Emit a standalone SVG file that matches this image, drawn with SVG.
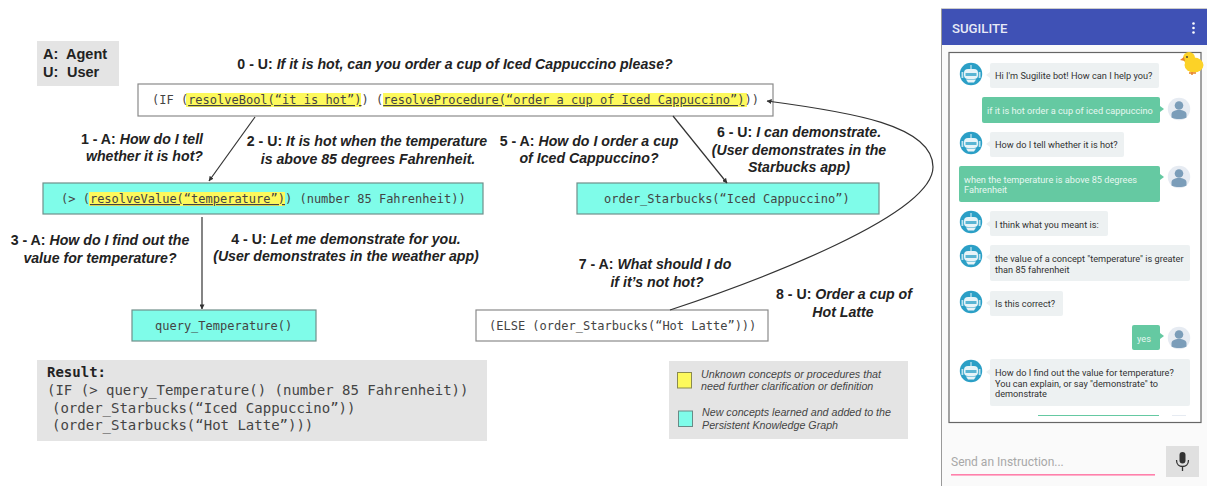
<svg xmlns="http://www.w3.org/2000/svg" width="1207" height="486" viewBox="0 0 1207 486">
<style>
text{font-family:"Liberation Sans",Arial,sans-serif}
.lb{font-size:14.15px;font-weight:bold;fill:#222;text-anchor:middle}
.lb tspan{font-style:italic}
.mono{font-family:"DejaVu Sans Mono",monospace;font-size:12px;fill:#444}
.mono .u{text-decoration:underline}
.hl{fill:#fdf95c}
.box{stroke:#8a8a8a;stroke-width:1.2;fill:#fff}
.teal{stroke:#6f8f8a;stroke-width:1.2;fill:#7ffce9}
.res{font-family:"DejaVu Sans Mono",monospace;font-size:14px;fill:#444}
.leg{font-size:10.7px;font-style:italic;fill:#444}
.c{stroke:#333;stroke-width:1.2;fill:none}
.bb{fill:#edf1f2}
.gb{fill:#65c9a2}
.bt{font-family:Roboto,"Liberation Sans",sans-serif;font-size:9.2px;fill:#333}
.gt{font-family:Roboto,"Liberation Sans",sans-serif;font-size:9.2px;fill:#e6f7f0}
</style>
<defs>
<marker id="ah" viewBox="0 0 6 6" refX="5.5" refY="3" markerWidth="5" markerHeight="5" orient="auto" markerUnits="userSpaceOnUse"><path d="M0 0L6 3L0 6Z" fill="#333"/></marker>
<g id="bot"><circle r="11.2" fill="#2b9fc6"/><rect x="-7" y="-5" width="14" height="10" rx="4" fill="#e8f4f8"/><path d="M-5 5.5h10l-2 3h-6Z" fill="#e8f4f8"/><rect x="-0.5" y="-9" width="1" height="4" fill="#e8f4f8"/><rect x="-9.5" y="-2" width="1.8" height="6" fill="#bfe3ef"/><rect x="7.7" y="-2" width="1.8" height="6" fill="#bfe3ef"/><rect x="-5.5" y="-1" width="11" height="3" fill="#5ab5d3"/></g>
<g id="usr"><circle r="11.2" fill="#e6ebf2"/><circle cy="-3.5" r="4.3" fill="#7b9db9"/><path d="M-7.5 8.5v-3c0-3 3-4.5 7.5-4.5s7.500 1.500 7.500 4.500v3c-4 2-11 2-15 0Z" fill="#7b9db9"/></g>
</defs>
<rect width="1207" height="486" fill="#fff"/>

<g id="legend-roles"><rect x="37" y="41" width="82" height="45" fill="#e4e4e4"/>
<text x="43" y="59" style="font-size:14.5px;font-weight:bold;fill:#222">A:</text><text x="66" y="59" style="font-size:14.5px;font-weight:bold;fill:#222">Agent</text>
<text x="43" y="77" style="font-size:14.5px;font-weight:bold;fill:#222">U:</text><text x="67" y="77" style="font-size:14.5px;font-weight:bold;fill:#222">User</text></g>

<g id="node-if"><rect class="box" x="138" y="84" width="635" height="32"/>
<rect class="hl" x="186" y="93" width="175" height="14"/><rect class="hl" x="383" y="93" width="364" height="14"/>
<text class="mono" x="152" y="104" xml:space="preserve">(IF (<tspan class="u">resolveBool(“it is hot”)</tspan>) (<tspan class="u">resolveProcedure(“order a cup of Iced Cappuccino”)</tspan>))</text></g>

<g id="node-gt"><rect class="teal" x="43" y="183" width="440" height="31"/>
<rect class="hl" x="89" y="192" width="196" height="14"/>
<text class="mono" x="61" y="203" xml:space="preserve">(&gt; (<tspan class="u">resolveValue(“temperature”)</tspan>) (number 85 Fahrenheit))</text></g>

<g id="node-order"><rect class="teal" x="577" y="183" width="302" height="31"/>
<text class="mono" x="604" y="203">order_Starbucks(“Iced Cappuccino”)</text></g>

<g id="node-query"><rect class="teal" x="132" y="310" width="184" height="31"/>
<text class="mono" x="155" y="330">query_Temperature()</text></g>

<g id="node-else"><rect class="box" x="476" y="310" width="292" height="31"/>
<text class="mono" x="489" y="330">(ELSE (order_Starbucks(“Hot Latte”)))</text></g>

<g id="connectors">
<path class="c" d="M255 117L209 181" marker-end="url(#ah)"/>
<path class="c" d="M202 217V309" marker-end="url(#ah)"/>
<path class="c" d="M673 116L727 183" marker-end="url(#ah)"/>
<path class="c" d="M670 310C760 280 933 215 933 167C933 125 850 112 767 101" marker-end="url(#ah)"/>
</g>

<g id="labels">
<text class="lb" x="455" y="69">0 - U: <tspan>If it is hot, can you order a cup of Iced Cappuccino please?</tspan></text>
<text class="lb" x="203" y="144" style="text-anchor:end">1 - A: <tspan>How do I tell</tspan></text>
<text class="lb" x="203" y="161" style="text-anchor:end"><tspan>whether it is hot?</tspan></text>
<text class="lb" x="367" y="146">2 - U: <tspan>It is hot when the temperature</tspan></text>
<text class="lb" x="368" y="164"><tspan>is above 85 degrees Fahrenheit.</tspan></text>
<text class="lb" x="589" y="146">5 - A: <tspan>How do I order a cup</tspan></text>
<text class="lb" x="589" y="163"><tspan>of Iced Cappuccino?</tspan></text>
<text class="lb" x="799" y="137">6 - U: <tspan>I can demonstrate.</tspan></text>
<text class="lb" x="799" y="155"><tspan>(User demonstrates in the</tspan></text>
<text class="lb" x="799" y="172"><tspan>Starbucks app)</tspan></text>
<text class="lb" x="100" y="245">3 - A: <tspan>How do I find out the</tspan></text>
<text class="lb" x="100" y="263"><tspan>value for temperature?</tspan></text>
<text class="lb" x="346" y="244">4 - U: <tspan>Let me demonstrate for you.</tspan></text>
<text class="lb" x="346" y="261"><tspan>(User demonstrates in the weather app)</tspan></text>
<text class="lb" x="655" y="269">7 - A: <tspan>What should I do</tspan></text>
<text class="lb" x="657" y="287"><tspan>if it’s not hot?</tspan></text>
<text class="lb" x="844" y="299">8 - U: <tspan>Order a cup of</tspan></text>
<text class="lb" x="843" y="317"><tspan>Hot Latte</tspan></text>
</g>

<g id="result"><rect x="37" y="360" width="450" height="81" fill="#e4e4e4"/>
<text class="res" x="47" y="377" font-weight="bold" style="fill:#222">Result:</text>
<text class="res" x="47" y="395">(IF (&gt; query_Temperature() (number 85 Fahrenheit))</text>
<text class="res" x="52" y="413">(order_Starbucks(“Iced Cappuccino”))</text>
<text class="res" x="52" y="430">(order_Starbucks(“Hot Latte”)))</text></g>

<g id="legend-colors"><rect x="669" y="361" width="239" height="78" fill="#e4e4e4"/>
<rect x="677.500" y="372.500" width="14" height="15.500" fill="#fdf95c" stroke="#8a8a50"/>
<text class="leg" x="701" y="378">Unknown concepts or procedures that</text>
<text class="leg" x="701" y="390">need further clarification or definition</text>
<rect x="678.500" y="411" width="14" height="15.500" fill="#7ffce9" stroke="#6a8a86"/>
<text class="leg" x="702" y="416">New concepts learned and added to the</text>
<text class="leg" x="702" y="429">Persistent Knowledge Graph</text></g>

<g id="phone">
<rect x="941.500" y="9" width="266" height="478" fill="#fafafa" stroke="#9a9a9a"/>
<rect x="942" y="9" width="265" height="36" fill="#3f51b5"/>
<text x="952" y="33" style="font-family:Roboto,'Liberation Sans',sans-serif;font-size:13.200px;font-weight:500;fill:#e8eaf6">SUGILITE</text>
<circle cx="1193.500" cy="23.500" r="1.300" fill="#fff"/><circle cx="1193.500" cy="28" r="1.300" fill="#fff"/><circle cx="1193.500" cy="32.500" r="1.300" fill="#fff"/>
<rect x="949" y="52.500" width="252" height="370" fill="#fff" stroke="#666" stroke-width="1.200"/>

<rect class="gb" x="1038" y="415" width="121" height="1"/>

<use href="#bot" x="971" y="74"/><rect class="bb" x="990" y="63" width="169" height="25" rx="2"/><path class="bb" d="M990 72l-4 3l4 3Z"/>
<text class="bt" x="995" y="79">Hi I'm Sugilite bot! How can I help you?</text>

<use href="#usr" x="1179" y="109"/><rect class="gb" x="982" y="97" width="178" height="26" rx="2"/><path class="gb" d="M1160 106l4 3l-4 3Z"/>
<text class="gt" x="987" y="114">if it is hot order a cup of iced cappuccino</text>

<use href="#bot" x="971" y="143"/><rect class="bb" x="990" y="132" width="134" height="25" rx="2"/><path class="bb" d="M990 141l-4 3l4 3Z"/>
<text class="bt" x="995" y="148">How do I tell whether it is hot?</text>

<use href="#usr" x="1179" y="177"/><rect class="gb" x="959" y="166" width="201" height="36" rx="2"/><path class="gb" d="M1160 174l4 3l-4 3Z"/>
<text class="gt" x="964" y="183">when the temperature is above 85 degrees</text>
<text class="gt" x="964" y="193">Fahrenheit</text>

<use href="#bot" x="971" y="222"/><rect class="bb" x="990" y="211" width="118" height="25" rx="2"/><path class="bb" d="M990 221l-4 3l4 3Z"/>
<text class="bt" x="995" y="228">I think what you meant is:</text>

<use href="#bot" x="971" y="256"/><rect class="bb" x="990" y="245" width="200" height="36" rx="2"/><path class="bb" d="M990 254l-4 3l4 3Z"/>
<text class="bt" x="995" y="262">the value of a concept "temperature" is greater</text>
<text class="bt" x="995" y="273">than 85 fahrenheit</text>

<use href="#bot" x="971" y="302"/><rect class="bb" x="990" y="291" width="73" height="25" rx="2"/><path class="bb" d="M990 300l-4 3l4 3Z"/>
<text class="bt" x="995" y="307">Is this correct?</text>

<use href="#usr" x="1179" y="338"/><rect class="gb" x="1132" y="325" width="28" height="25" rx="2"/><path class="gb" d="M1160 333l4 3l-4 3Z"/>
<text class="gt" x="1137" y="342">yes</text>

<use href="#bot" x="971" y="371"/><rect class="bb" x="990" y="359" width="200" height="47" rx="2"/><path class="bb" d="M990 369l-4 3l4 3Z"/>
<text class="bt" x="995" y="376">How do I find out the value for temperature?</text>
<text class="bt" x="995" y="387">You can explain, or say "demonstrate" to</text>
<text class="bt" x="995" y="397">demonstrate</text>

<rect x="1172" y="415" width="14" height="1" fill="#e6ebf2"/>

<g id="duck"><ellipse cx="1194" cy="65" rx="9.500" ry="7.500" fill="#fcd227"/><circle cx="1189" cy="58" r="6" fill="#fcd227"/><path d="M1184 57l-4 3l5 1Z" fill="#e8842a"/><path d="M1189 73h7M1192 72v3" stroke="#e8842a" stroke-width="1.500"/><circle cx="1187" cy="57" r="0.900" fill="#333"/></g>

<text x="951" y="466" style="font-family:Roboto,'Liberation Sans',sans-serif;font-size:12px;fill:#a8a8a8">Send an Instruction...</text>
<rect x="951" y="474" width="204" height="1.600" fill="#ff80ab"/>
<rect x="1166" y="446" width="33" height="31" fill="#e0e0e0"/>
<rect x="1179.500" y="452" width="6" height="11.500" rx="3" fill="#333"/>
<path d="M1176.500 460c0 4.500 3 6.500 6 6.500s6-2 6-6.500M1182.500 466.500v4.500" fill="none" stroke="#333" stroke-width="1.300"/>
</g>
</svg>
